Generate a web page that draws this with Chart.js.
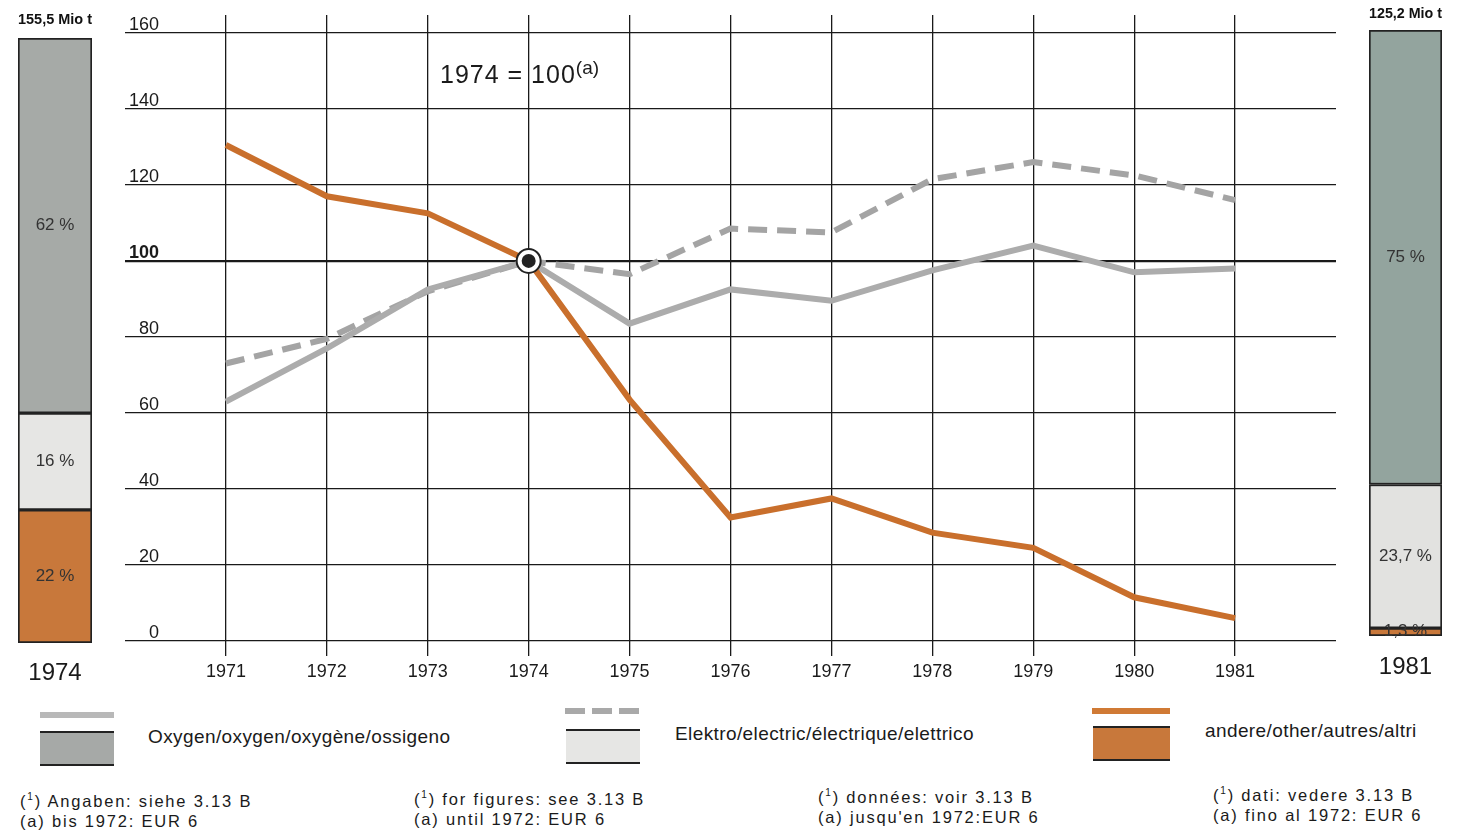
<!DOCTYPE html>
<html>
<head>
<meta charset="utf-8">
<script src="https://cdn.jsdelivr.net/npm/chart.js@4"></script>
<style>
  body { margin: 0; background: #fff; font-family: 'Liberation Sans', Arial, sans-serif; color: #1a1a1a; }
  #page { position: relative; width: 1468px; height: 831px; overflow: hidden; }
  canvas { position: absolute; top: 0; }
  .note { position: absolute; font-size: 25px; letter-spacing: 1px; }
  .note sup { font-size: 19px; letter-spacing: 0; }
  .sw { position: absolute; }
  .lg { position: absolute; font-size: 19px; letter-spacing: 0.4px; }
  .fn { position: absolute; font-size: 16.5px; letter-spacing: 1.8px; line-height: 20px; }
</style>
</head>
<body>
<div id="page">
  <canvas id="main" width="1468" height="700" style="left:0"></canvas>
  <canvas id="left" width="110" height="700" style="left:0"></canvas>
  <canvas id="right" width="110" height="700" style="left:1350px"></canvas>

  <div class="note" style="left:440px; top:57px;">1974 = 100<sup>(a)</sup></div>

  <div class="sw" style="left:40px; top:712px; width:74px; height:6px; background:#b8b8b8"></div>
  <div class="sw" style="left:565px; top:708px; width:75px; height:6px; background:repeating-linear-gradient(90deg,#a9a9a9 0 20px,transparent 20px 27px)"></div>
  <div class="sw" style="left:1092px; top:708px; width:78px; height:6px; background:#d07a35"></div>

  <div class="sw" style="left:40px; top:731px; width:74px; height:31px; background:#a6a9a7; border-top:2px solid #222; border-bottom:2px solid #222"></div>
  <div class="sw" style="left:566px; top:729px; width:74px; height:31px; background:#e6e6e4; border-top:2px solid #222; border-bottom:2px solid #222"></div>
  <div class="sw" style="left:1093px; top:726px; width:77px; height:31px; background:#c8783b; border-top:2px solid #222; border-bottom:2px solid #222"></div>

  <div class="lg" style="left:148px; top:726px;">Oxygen/oxygen/oxygène/ossigeno</div>
  <div class="lg" style="left:675px; top:723px;">Elektro/electric/électrique/elettrico</div>
  <div class="lg" style="left:1205px; top:720px;">andere/other/autres/altri</div>

  <div class="fn" style="left:20px; top:787px;">(<sup style="font-size:10px">1</sup>) Angaben: siehe 3.13 B<br>(a) bis 1972: EUR 6</div>
  <div class="fn" style="left:414px; top:785px;">(<sup style="font-size:10px">1</sup>) for figures: see 3.13 B<br>(a) until 1972: EUR 6</div>
  <div class="fn" style="left:818px; top:783px;">(<sup style="font-size:10px">1</sup>) données: voir 3.13 B<br>(a) jusqu'en 1972:EUR 6</div>
  <div class="fn" style="left:1213px; top:781px;">(<sup style="font-size:10px">1</sup>) dati: vedere 3.13 B<br>(a) fino al 1972: EUR 6</div>
</div>

<script>
// index 1974 = 100
const years = [1971, 1972, 1973, 1974, 1975, 1976, 1977, 1978, 1979, 1980, 1981];
const oxygen = [63, 77, 92.5, 100, 83.5, 92.5, 89.5, 97.5, 104, 97, 98];
const elektro = [73, 79.5, 92, 100, 96.5, 108.5, 107.5, 121.5, 126, 122.5, 116];
const andere = [130.5, 117, 112.5, 100, 63.5, 32.5, 37.5, 28.5, 24.5, 11.5, 6];
const yTicks = [0, 20, 40, 60, 80, 100, 120, 140, 160];
const baseYear = 1974;
const baseValue = 100;

// shares (%) bottom to top: andere, elektro, oxygen
const shareNames = ['andere', 'Elektro', 'Oxygen'];
const share1974 = [22, 16, 62];
const share1981 = [1.3, 23.7, 75];
const totals = ['155,5 Mio t', '125,2 Mio t'];

const ORANGE = '#c96f2c';

function pts(arr) {
  return years.map((yr, i) => ({ x: yr, y: arr[i] }));
}

new Chart(document.getElementById('main'), {
  type: 'line',
  data: {
    datasets: [
      { data: [{ x: baseYear, y: baseValue }], showLine: false, pointRadius: 7, pointBackgroundColor: '#222',
        pointBorderWidth: 0, order: 0 },
      { data: [{ x: baseYear, y: baseValue }], showLine: false, pointRadius: 12, pointBackgroundColor: '#fff',
        pointBorderColor: '#222', pointBorderWidth: 2, order: 1 },
      { label: 'andere', data: pts(andere), borderColor: ORANGE, borderWidth: 6, pointRadius: 0, order: 2 },
      { label: 'Oxygen', data: pts(oxygen), borderColor: '#acacac', borderWidth: 6, pointRadius: 0, order: 3 },
      { label: 'Elektro', data: pts(elektro), borderColor: '#a4a4a4', borderWidth: 6, borderDash: [19, 10],
        pointRadius: 0, order: 4 }
    ]
  },
  options: {
    responsive: false,
    animation: false,
    layout: { padding: { left: 0, right: 132, top: 15, bottom: 0 } },
    plugins: { legend: { display: false }, tooltip: { enabled: false } },
    scales: {
      x: {
        type: 'linear',
        min: 1970,
        max: 1982,
        afterBuildTicks: s => { s.ticks = years.map(v => ({ value: v })); },
        afterFit: s => { s.height = 44; },
        grid: { color: '#1a1a1a', lineWidth: 1.3, drawTicks: false },
        border: { display: false },
        ticks: { color: '#1a1a1a', padding: 5, font: { family: 'Liberation Sans', size: 18 }, callback: v => String(v) }
      },
      y: {
        min: -3.95,
        max: 164.7,
        afterBuildTicks: s => { s.ticks = yTicks.map(v => ({ value: v })); },
        afterFit: s => { s.width = 125; },
        grid: {
          color: '#1a1a1a',
          lineWidth: c => (c.tick && c.tick.value === 100 ? 2.2 : 1.3),
          drawTicks: false
        },
        border: { display: false },
        ticks: {
          color: '#1a1a1a',
          mirror: true,
          padding: 4,
          labelOffset: -8,
          callback: v => String(v).padStart(3, '\u2007'),
          font: c => ({ family: 'Liberation Sans', size: 18, weight: c.tick && c.tick.value === 100 ? 'bold' : 'normal' })
        }
      }
    }
  }
});

// labels inside the share bars
const pctLabels = {
  id: 'pctLabels',
  afterDatasetsDraw(chart) {
    const ctx = chart.ctx;
    ctx.save();
    ctx.font = '17px "Liberation Sans"';
    ctx.fillStyle = '#333';
    ctx.textAlign = 'center';
    ctx.textBaseline = 'middle';
    chart.data.datasets.forEach((ds, i) => {
      const el = chart.getDatasetMeta(i).data[0];
      let y = (el.y + el.base) / 2;
      if (el.base - el.y < 20) y = el.y + 3;
      ctx.fillText(String(ds.data[0]).replace('.', ',') + ' %', el.x, y);
    });
    ctx.restore();
  }
};

function shareChart(id, year, values, total, colors, padL, padR, titlePad, axisH, tickPad) {
  new Chart(document.getElementById(id), {
    type: 'bar',
    data: {
      labels: [String(year)],
      datasets: values.map((v, i) => ({
        label: shareNames[i],
        data: [v],
        backgroundColor: colors[i],
        borderColor: '#222',
        borderWidth: 2,
        borderSkipped: false,
        barPercentage: 1,
        categoryPercentage: 1
      }))
    },
    options: {
      responsive: false,
      animation: false,
      layout: { padding: { left: padL, right: padR, top: 0, bottom: 0 } },
      plugins: {
        legend: { display: false },
        tooltip: { enabled: false },
        title: { display: true, text: total, color: '#111', font: { family: 'Liberation Sans', size: 15, weight: 'bold' },
          padding: titlePad }
      },
      scales: {
        x: {
          stacked: true,
          grid: { display: false, drawTicks: false },
          border: { display: false },
          afterFit: s => { s.height = axisH; },
          ticks: { color: '#1a1a1a', padding: tickPad, font: { family: 'Liberation Sans', size: 24 } }
        },
        y: { stacked: true, display: false, min: 0, max: 100 }
      }
    },
    plugins: [pctLabels]
  });
}

shareChart('left', 1974, share1974, totals[0], [ '#c8783b', '#e6e6e4', '#a6aaa7' ], 18, 18,
  { top: 11, bottom: 9 }, 57, 16);
shareChart('right', 1981, share1981, totals[1], [ '#c8783b', '#e2e2e0', '#93a49e' ], 19, 18,
  { top: 5, bottom: 7 }, 64, 17);
</script>
</body>
</html>
